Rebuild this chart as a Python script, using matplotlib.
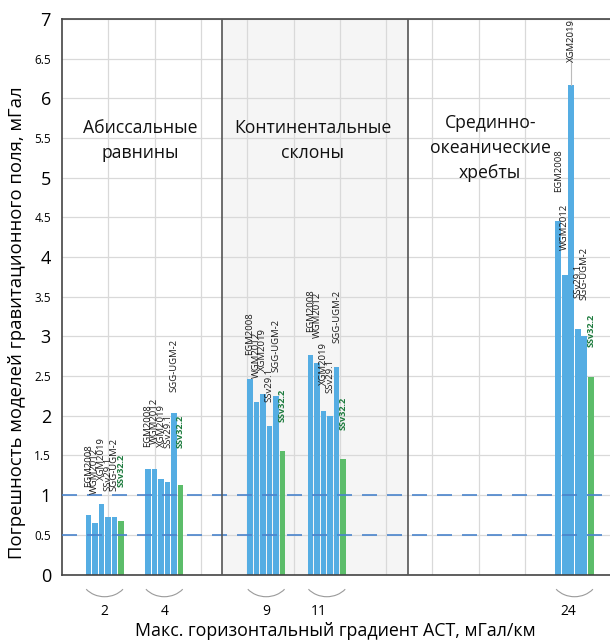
"""
Погрешность моделей гравитационного поля по районам
"""

import numpy as np
import matplotlib.pyplot as plt
from matplotlib.patches import Arc


plt.rcParams['font.family'] = ['Open Sans', 'DejaVu Sans']


# Data
models = ['EGM2008', 'WGM2012', 'XGM2019', 'SSv29.1', 'SGG-UGM-2', 'SSv32.2']
gradients = ['2', '4', '9', '11', '24']

egm2008 = [0.75, 1.33, 2.46, 2.77, 4.45]
wgm2012 = [0.65, 1.33, 2.18, 2.67, 3.78]
xgm2019 = [0.89, 1.20, 2.27, 2.06, 6.17]
ssv291 = [0.73, 1.16, 1.87, 2.00, 3.09]
sgg_ugm2 = [0.72, 2.03, 2.25, 2.62, 3.01]
ssv322 = [0.67, 1.13, 1.55, 1.46, 2.49]

# height where each rotated label starts
lab_egm2008 = [1.10, 1.61, 2.76, 3.06, 4.82]
lab_wgm2012 = [1.02, 1.64, 2.48, 2.98, 4.09]
lab_xgm2019 = [1.19, 1.61, 2.57, 2.39, 6.46]
lab_ssv291 = [1.05, 1.60, 2.18, 2.29, 3.48]
lab_sgg_ugm2 = [1.05, 2.30, 2.55, 2.92, 3.46]
lab_ssv322 = [1.10, 1.60, 1.92, 1.82, 2.87]

levels = [0.5, 1.0]

regions = ['Абиссальные\nравнины', 'Континентальные\nсклоны',
           'Срединно-\nокеанические\nхребты']


# Layout
group_x = [0.92, 2.21, 4.41, 5.72, 11.07]
tick_x = [0.92, 2.22, 4.41, 5.55, 10.93]
region_x = [1.69, 5.42, 9.25]
region_y = [5.47, 5.47, 5.38]
slot = 0.1404
blue = '#55ade3'
green = '#5cbd6a'

values = [egm2008, wgm2012, xgm2019, ssv291, sgg_ugm2, ssv322]
lab_y = [lab_egm2008, lab_wgm2012, lab_xgm2019, lab_ssv291, lab_sgg_ugm2, lab_ssv322]

fig = plt.figure(figsize=(6.1, 6.4), dpi=100)
ax = fig.add_axes([62 / 610, 65.5 / 640, 555 / 610, 555.5 / 640])
ax.set_xlim(0, 555 / 46.3)
ax.set_ylim(0, 7)

# grid and shaded block
ax.set_axisbelow(True)
ax.set_xticks(np.arange(1, 12), minor=True)
ax.grid(True, which='minor', axis='x', color='#d9d9d9', lw=0.9)
ax.set_yticks(np.arange(0, 7.01, 0.5))
ax.grid(True, which='major', axis='y', color='#d9d9d9', lw=0.9)
ax.axvspan(3.46, 7.47, color='#f5f5f5', zorder=0.2, lw=0)
for xv in (3.46, 7.47):
    ax.axvline(xv, color='#555555', lw=1.2, zorder=4)

for i, (vals, labs, nm) in enumerate(zip(values, lab_y, models)):
    xs = np.array(group_x) + (i - 2.5) * slot
    col = green if nm == 'SSv32.2' else blue
    ax.bar(xs, vals, width=slot * 0.86, color=col, zorder=2)
    for x, v, ly in zip(xs, vals, labs):
        if nm == 'SSv32.2':
            ax.text(x, ly, nm, rotation=90, ha='center', va='bottom',
                    fontsize=6.6, color='#1b7a3c', fontweight='bold', zorder=5)
        else:
            ax.text(x, ly, nm, rotation=90, ha='center', va='bottom',
                    fontsize=6.8, color='#1a1a1a', zorder=5)
        if ly - v > 0.25 and nm == 'XGM2019' and v > 6:
            ax.plot([x, x], [v, ly], color='#bbbbbb', lw=0.7, zorder=3)

for lv in levels:
    ax.axhline(lv, color='#4a84cc', lw=1.2, dashes=(9, 6), zorder=3)

for rx, ry, txt in zip(region_x, region_y, regions):
    ax.text(rx, ry, txt, ha='center', va='center', fontsize=12.7,
            linespacing=1.5, color='#111111')

# brackets under the groups
for gx in group_x:
    ax.add_patch(Arc((gx, 0.0), width=1.06, height=0.56, theta1=205, theta2=335,
                     color='#9a9a9a', lw=0.8, clip_on=False))

ax.set_xticks(tick_x)
ax.set_xticklabels(gradients, fontsize=10)
ax.tick_params(axis='x', which='both', length=0, pad=21)
ax.tick_params(axis='y', length=0, pad=8)
ax.set_yticklabels([f'{v:g}' for v in np.arange(0, 7.01, 0.5)])
for lab, v in zip(ax.get_yticklabels(), np.arange(0, 7.01, 0.5)):
    lab.set_fontsize(13 if v == int(v) else 8.5)

for side in ['left', 'top', 'bottom']:
    ax.spines[side].set_color('#444444')
    ax.spines[side].set_linewidth(1.2)
ax.spines['right'].set_visible(False)

fig.text(0.55, 9 / 640, 'Макс. горизонтальный градиент АСТ, мГал/км',
         ha='center', va='center', fontsize=12.8)
fig.text(0.028, 317 / 640, 'Погрешность моделей гравитационного поля, мГал',
         rotation=90, ha='center', va='center', fontsize=13.3)

plt.savefig('out.png', dpi=100)
